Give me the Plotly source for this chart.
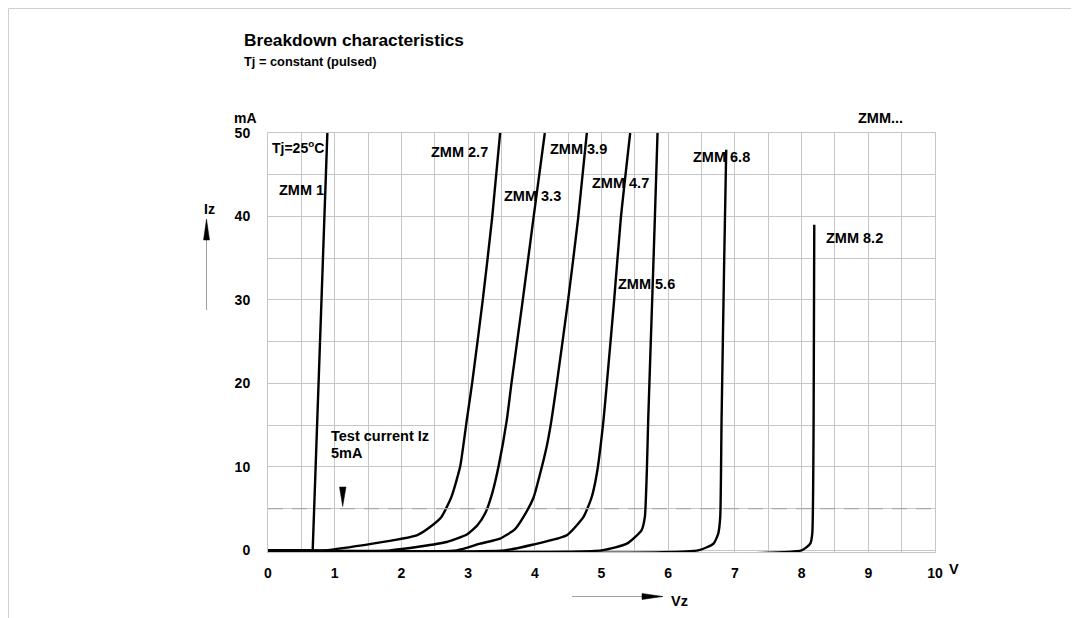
import plotly.graph_objects as go

# ---------------- data ----------------
V_ZMM1 = [0, 0.67, 0.89]
I_ZMM1 = [0, 0, 50]

V_ZMM2_7 = [0, 0.85, 2.23, 2.43, 2.60, 2.75, 2.88, 2.98, 3.06, 3.22, 3.36, 3.48]
I_ZMM2_7 = [0, 0, 1.8, 2.8, 4.0, 6.4, 10.0, 15.6, 20, 30, 39.8, 50]

V_ZMM3_3 = [0, 1.83, 2.68, 2.98, 3.14, 3.26, 3.36, 3.46, 3.58, 3.65, 3.82, 3.98, 4.15]
I_ZMM3_3 = [0, 0, 1.0, 1.9, 3.0, 4.5, 6.8, 10.2, 15.6, 20, 30, 39.8, 50]

V_ZMM3_9 = [0, 2.83, 3.18, 3.48, 3.70, 3.83, 3.98, 4.08, 4.18, 4.25, 4.33, 4.50, 4.65, 4.78]
I_ZMM3_9 = [0, 0, 0.8, 1.4, 2.5, 4.0, 6.3, 9.2, 12.5, 15.6, 20, 30, 39.8, 50]

V_ZMM4_7 = [0, 3.55, 3.98, 4.48, 4.73, 4.85, 4.93, 5.03, 5.08, 5.19, 5.29, 5.43]
I_ZMM4_7 = [0, 0, 0.7, 1.8, 4.0, 6.3, 9.2, 15.6, 20, 30, 39.8, 50]

V_ZMM5_6 = [0, 5.00, 5.38, 5.60, 5.65, 5.68, 5.70, 5.76, 5.80, 5.84]
I_ZMM5_6 = [0, 0, 0.8, 2.4, 4.0, 9.6, 15.6, 30, 39.8, 50]

V_ZMM6_8 = [0, 6.45, 6.68, 6.75, 6.78, 6.80, 6.84, 6.87]
I_ZMM6_8 = [0, 0, 0.8, 2.0, 4.0, 15.6, 35, 48]

V_ZMM8_2 = [0, 8.00, 8.13, 8.16, 8.18, 8.19]
I_ZMM8_2 = [0, 0, 0.8, 2.0, 15.6, 39]

TEST_CURRENT_MA = 5

X_TICKS = [0, 1, 2, 3, 4, 5, 6, 7, 8, 9, 10]
X_TICK_LABELS = ["0", "1", "2", "3", "4", "5", "6", "7", "8", "9", "10"]
Y_TICKS = [0, 10, 20, 30, 40, 50]
Y_TICK_LABELS = ["0", "10", "20", "30", "40", "50"]

CURVE_LABELS = ["ZMM 1", "ZMM 2.7", "ZMM 3.3", "ZMM 3.9", "ZMM 4.7", "ZMM 5.6", "ZMM 6.8", "ZMM 8.2"]

# ---------------- layout geometry ----------------
W, H = 1079, 618
OFF = 8  # page body margin
L, R, T, B = 268 - OFF, 935 - OFF, 133 - OFF, 552 - OFF
FONT = "Liberation Sans, Arial, sans-serif"
GRID = "#c6c6c6"


def px(x):
    return (x - OFF - L) / (R - L)


def py(y):
    return (B - (y - OFF)) / (B - T)


fig = go.Figure()

curves = [
    (V_ZMM1, I_ZMM1, "linear"),
    (V_ZMM2_7, I_ZMM2_7, "spline"),
    (V_ZMM3_3, I_ZMM3_3, "spline"),
    (V_ZMM3_9, I_ZMM3_9, "spline"),
    (V_ZMM4_7, I_ZMM4_7, "spline"),
    (V_ZMM5_6, I_ZMM5_6, "spline"),
    (V_ZMM6_8, I_ZMM6_8, "spline"),
    (V_ZMM8_2, I_ZMM8_2, "spline"),
]
for (v, i, shp), name in zip(curves, CURVE_LABELS):
    line = dict(color="black", width=2.4, shape=shp)
    if shp == "spline":
        line["smoothing"] = 0.5
    fig.add_trace(go.Scatter(x=v, y=i, mode="lines", line=line, name=name,
                             showlegend=False, hoverinfo="skip"))

# test current dashed line
fig.add_shape(type="line", xref="x", yref="y", x0=0, x1=10,
              y0=TEST_CURRENT_MA, y1=TEST_CURRENT_MA,
              line=dict(color="#a8a8a8", width=1.2, dash="15px,9px"), layer="above")

annos = []


def txt(text, x, y, size=14.5, xanchor="left"):
    annos.append(dict(text=text, x=px(x), y=py(y), xref="paper", yref="paper",
                      xanchor=xanchor, yanchor="middle", showarrow=False,
                      font=dict(family=FONT, size=size, color="black", weight="bold")))


txt("Breakdown characteristics", 242, 40, size=17.3)
txt("Tj = constant (pulsed)", 242, 61, size=12.8)
txt("mA", 232, 118, size=14)
txt("Tj=25<sup>o</sup>C", 270, 147, size=14)
label_pos = [(277, 190), (429, 152), (502, 196), (548, 149), (590, 183),
             (616, 284), (691, 157), (824, 238)]
for name, (lx, ly) in zip(CURVE_LABELS, label_pos):
    txt(name, lx, ly)
txt("ZMM...", 856, 118)
txt("Test current Iz", 329, 436)
txt("5mA", 329, 453)
txt("Iz", 202, 209, size=14)
txt("Vz", 669, 601, size=14.5)
txt("V", 947, 569, size=14.5)

fig.update_layout(annotations=annos)

# arrows (decorations)
shapes = []
# Iz arrow
shapes.append(dict(type="line", xref="paper", yref="paper", x0=px(206.5), x1=px(206.5),
                   y0=py(310), y1=py(238), line=dict(color="#a0a0a0", width=1)))
shapes.append(dict(type="path", xref="paper", yref="paper",
                   path=f"M {px(203.5)} {py(240)} L {px(206.5)} {py(219)} L {px(209.5)} {py(240)} Z",
                   fillcolor="black", line=dict(color="black", width=0.5)))
# Vz arrow
shapes.append(dict(type="line", xref="paper", yref="paper", x0=px(572), x1=px(645),
                   y0=py(596.5), y1=py(596.5), line=dict(color="#a0a0a0", width=1)))
shapes.append(dict(type="path", xref="paper", yref="paper",
                   path=f"M {px(642)} {py(593.5)} L {px(663)} {py(596.5)} L {px(642)} {py(599.5)} Z",
                   fillcolor="black", line=dict(color="black", width=0.5)))
# test current arrow
shapes.append(dict(type="path", xref="paper", yref="paper",
                   path=f"M {px(339.5)} {py(487)} L {px(342.7)} {py(506.5)} L {px(346)} {py(487)} Z",
                   fillcolor="black", line=dict(color="black", width=0.5)))
# outer frame (top and left), as close to the page corner as the figure allows
shapes.append(dict(type="line", xref="paper", yref="paper", x0=px(8.5), x1=px(1079),
                   y0=py(8.5), y1=py(8.5), line=dict(color="#d0d0d0", width=1)))
shapes.append(dict(type="line", xref="paper", yref="paper", x0=px(8.5), x1=px(8.5),
                   y0=py(8.5), y1=py(626), line=dict(color="#d0d0d0", width=1)))
for s in shapes:
    fig.add_shape(**s)

fig.update_layout(
    width=W, height=H,
    margin=dict(l=L, r=W - R, t=T, b=H - B),
    paper_bgcolor="white", plot_bgcolor="white",
    showlegend=False,
    xaxis=dict(range=[0, 10], tickmode="array", tickvals=X_TICKS, ticktext=X_TICK_LABELS,
               showgrid=True, gridcolor=GRID, gridwidth=1,
               minor=dict(tickmode="linear", tick0=0, dtick=0.5, showgrid=True,
                          gridcolor=GRID, gridwidth=1),
               ticks="outside", ticklen=8, tickcolor="rgba(0,0,0,0)",
               showline=True, linecolor=GRID, linewidth=1, mirror=True,
               zeroline=False, fixedrange=True,
               tickfont=dict(family=FONT, size=14, color="black", weight="bold")),
    yaxis=dict(range=[-0.2, 50], tickmode="array", tickvals=Y_TICKS, ticktext=Y_TICK_LABELS,
               showgrid=True, gridcolor=GRID, gridwidth=1,
               minor=dict(tickmode="linear", tick0=0, dtick=5, showgrid=True,
                          gridcolor=GRID, gridwidth=1),
               ticks="outside", ticklen=14, tickcolor="rgba(0,0,0,0)",
               showline=True, linecolor=GRID, linewidth=1, mirror=True,
               zeroline=False, fixedrange=True,
               tickfont=dict(family=FONT, size=14, color="black", weight="bold")),
)

fig.write_html("out.html")
